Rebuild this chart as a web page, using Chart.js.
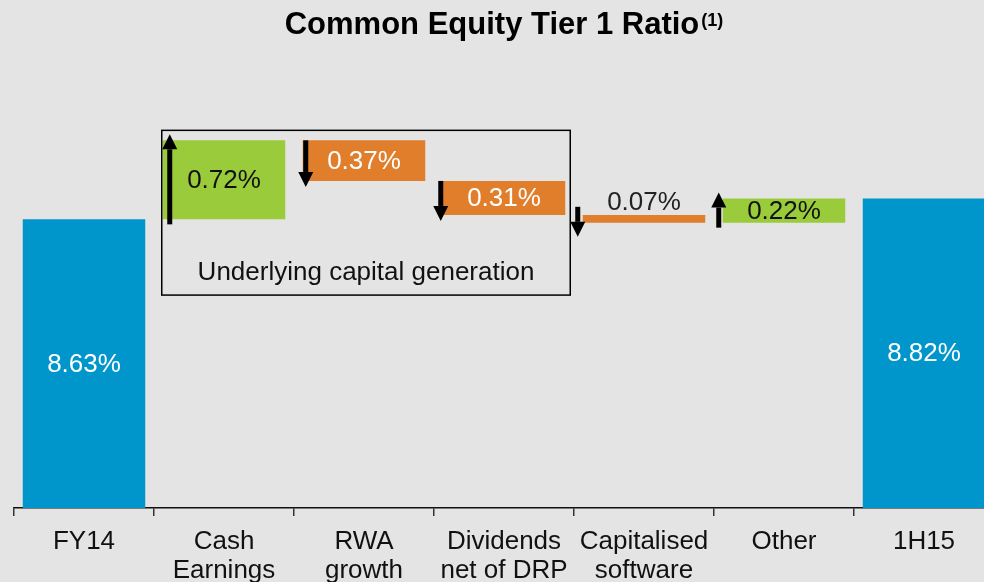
<!DOCTYPE html>
<html>
<head>
<meta charset="utf-8">
<script src="https://cdn.jsdelivr.net/npm/chart.js@4.4.0/dist/chart.umd.min.js"></script>
<style>
  html, body { margin: 0; padding: 0; background: #e3e4e3; overflow: hidden; }
  #wrap { position: relative; width: 1000px; height: 582px; }
</style>
</head>
<body>
<div id="wrap"><canvas id="cet1" width="1000" height="582"></canvas></div>
<script>
// data
var categories = [['FY14'], ['Cash', 'Earnings'], ['RWA', 'growth'], ['Dividends', 'net of DRP'], ['Capitalised', 'software'], ['Other'], ['1H15']];
var openingRatio = 8.63;
var movements = [0.72, -0.37, -0.31, -0.07, 0.22];
var closingRatio = 8.82;
var valueLabels = ['8.63%', '0.72%', '0.37%', '0.31%', '0.07%', '0.22%', '8.82%'];
var boxLabel = 'Underlying capital generation';

var BLUE = '#0096cc', GREEN = '#9acb3b', ORANGE = '#e07e2b';

// build the floating bars of the waterfall
var bars = [[0, openingRatio]];
var colors = [BLUE];
var running = openingRatio;
movements.forEach(function (m) {
  var next = +(running + m).toFixed(2);
  bars.push([Math.min(running, next), Math.max(running, next)]);
  colors.push(m >= 0 ? GREEN : ORANGE);
  running = next;
});
bars.push([0, closingRatio]);
colors.push(BLUE);

var FONT = '"Liberation Sans", Arial, sans-serif';

var decorations = {
  id: 'decorations',
  afterDatasetsDraw: function (chart, args, opts) {
    var ctx = chart.ctx;
    var meta = chart.getDatasetMeta(0);
    var y = chart.scales.y;
    ctx.save();

    // value labels
    ctx.font = '26px ' + FONT;
    ctx.textAlign = 'center';
    meta.data.forEach(function (bar, i) {
      var top = Math.min(bar.y, bar.base);
      var bottom = Math.min(Math.max(bar.y, bar.base), chart.chartArea.bottom);
      var h = bottom - top;
      if (h < 20) {
        ctx.fillStyle = '#222';
        ctx.textBaseline = 'bottom';
        ctx.fillText(valueLabels[i], bar.x, top + 1);
      } else {
        ctx.fillStyle = colors[i] === GREEN ? '#111' : '#fff';
        ctx.textBaseline = 'middle';
        ctx.fillText(valueLabels[i], bar.x, (top + bottom) / 2 + 1);
      }
    });

    // arrows showing direction of each movement
    ctx.fillStyle = '#000';
    ctx.strokeStyle = '#000';
    var level = openingRatio;
    movements.forEach(function (m, k) {
      var bar = meta.data[k + 1];
      var dir = m >= 0 ? -1 : 1;
      var x = bar.x - bar.width / 2 + opts.arrowShift[k];
      var from = y.getPixelForValue(level) + (m >= 0 ? 5 : 0);
      level = +(level + m).toFixed(2);
      var to = y.getPixelForValue(level) + dir * 6;
      if (Math.abs(to - from) < 30) {
        var mid = (to + from) / 2;
        from = mid - dir * 15;
        to = mid + dir * 15;
      }
      var head = 15;
      ctx.lineWidth = 5;
      ctx.beginPath();
      ctx.moveTo(x, from);
      ctx.lineTo(x, to - dir * head);
      ctx.stroke();
      ctx.beginPath();
      ctx.moveTo(x, to);
      ctx.lineTo(x - 7.5, to - dir * head);
      ctx.lineTo(x + 7.5, to - dir * head);
      ctx.closePath();
      ctx.fill();
    });

    // box around the underlying capital generation items
    var first = meta.data[1], last = meta.data[3];
    var left = first.x - first.width / 2 - 1;
    var right = last.x + last.width / 2 + 5;
    var top = y.getPixelForValue(Math.max(bars[1][1], bars[2][1], bars[3][1])) - 10;
    var bottom = y.getPixelForValue(opts.boxFloor);
    ctx.lineWidth = 1.5;
    ctx.strokeRect(left, top, right - left, bottom - top);
    ctx.fillStyle = '#111';
    ctx.font = '26px ' + FONT;
    ctx.textBaseline = 'middle';
    ctx.fillText(boxLabel, (left + right) / 2, bottom - 22);

    // title with superscript
    var main = 'Common Equity Tier 1 Ratio', sup = '(1)';
    ctx.font = 'bold 31px ' + FONT;
    var w1 = ctx.measureText(main).width;
    ctx.font = 'bold 18px ' + FONT;
    var w2 = ctx.measureText(sup).width;
    var cx = (chart.chartArea.left + chart.chartArea.right) / 2;
    var sx = cx - (w1 + w2 + 2) / 2;
    ctx.textAlign = 'left';
    ctx.textBaseline = 'alphabetic';
    ctx.fillStyle = '#000';
    ctx.font = 'bold 31px ' + FONT;
    ctx.fillText(main, sx, 34);
    ctx.font = 'bold 18px ' + FONT;
    ctx.fillText(sup, sx + w1 + 2, 26);
    ctx.restore();
  }
};

var ctx = document.getElementById('cet1').getContext('2d');
var myChart = new Chart(ctx, {
  type: 'bar',
  data: {
    labels: categories,
    datasets: [{
      data: bars,
      backgroundColor: colors,
      borderWidth: 0,
      categoryPercentage: 1,
      barPercentage: 0.875,
      clip: 0
    }]
  },
  options: {
    responsive: false,
    animation: false,
    layout: { padding: { left: 14, right: 6, top: 69, bottom: 0 } },
    plugins: {
      legend: { display: false },
      tooltip: { enabled: false },
      decorations: { arrowShift: [7, 3, -2, -5, -4], boxFloor: 7.94 }
    },
    scales: {
      x: {
        grid: { offset: true, drawOnChartArea: false, tickLength: 8, color: '#333', lineWidth: 1.5 },
        border: { display: true, color: '#111', width: 1.5 },
        ticks: { color: '#111', font: { family: FONT, size: 26, lineHeight: 1.12 }, padding: 11, maxRotation: 0, autoSkip: false },
        afterFit: function (scale) { scale.height = 74; }
      },
      y: { display: false, min: 6, max: 10 }
    }
  },
  plugins: [decorations]
});
</script>
</body>
</html>
